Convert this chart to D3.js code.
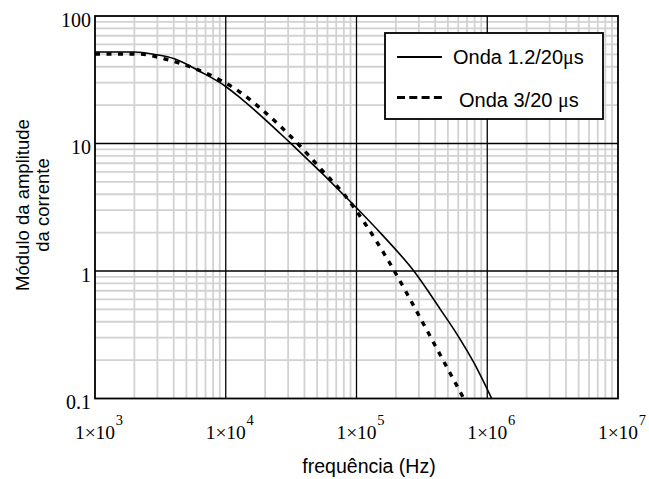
<!DOCTYPE html>
<html>
<head>
<meta charset="utf-8">
<script src="https://cdn.jsdelivr.net/npm/d3@7"></script>
<style>
  body { margin: 0; background: #fff; }
  svg { display: block; }
</style>
</head>
<body>
<svg id="chart" width="649" height="479"></svg>
<script>
// Current amplitude spectrum, 1.2/20 µs wave (solid)
const freqSolid = [1000, 2000, 2876, 4092, 6355, 10000, 13310, 31000, 99100, 156700, 280200, 435100, 597300, 792000, 1081000];
const ampSolid  = [52.2, 52.2, 49.9, 46.0, 36.7, 28.0, 22.2, 10.16, 3.16, 1.93, 0.973, 0.505, 0.310, 0.190, 0.1];

// Current amplitude spectrum, 3/20 µs wave (dashed)
const freqDashed = [1000, 2096, 3431, 5519, 8723, 12850, 18280, 36980, 54460, 81660, 116100, 180400, 305900, 450800, 661700];
const ampDashed  = [50.4, 50.4, 46.0, 39.5, 32.1, 25.3, 19.0, 9.56, 6.17, 3.91, 2.36, 1.145, 0.432, 0.207, 0.1];

const yTickValues = [0.1, 1, 10, 100];
const yTickLabels = ["0.1", "1", "10", "100"];
const xTickValues = [1e3, 1e4, 1e5, 1e6, 1e7];
const xTickMantissa = "1\u00D710";
const xTickExponents = ["3", "4", "5", "6", "7"];

const legendNames = ["Onda 1.2/20", "Onda 3/20 "];
const xTitle = "frequência (Hz)";
const yTitleLines = ["Módulo da amplitude", "da corrente"];

const svg = d3.select("#chart");
const plotLeft = 95, plotRight = 618, plotTop = 16, plotBottom = 398.5;

const x = d3.scaleLog().domain([1e3, 1e7]).range([plotLeft, plotRight]);
const y = d3.scaleLog().domain([0.1, 100]).range([plotBottom, plotTop]);

const isDecade = v => Math.abs(Math.log10(v) - Math.round(Math.log10(v))) < 1e-9;

// minor grid
const gMinor = svg.append("g").attr("stroke", "#d2d2d2").attr("stroke-width", 1.8);
gMinor.selectAll("line.vx").data(x.ticks().filter(v => !isDecade(v)))
  .join("line").attr("x1", d => x(d)).attr("x2", d => x(d)).attr("y1", plotTop).attr("y2", plotBottom);
gMinor.selectAll("line.hy").data(y.ticks().filter(v => !isDecade(v)))
  .join("line").attr("y1", d => y(d)).attr("y2", d => y(d)).attr("x1", plotLeft).attr("x2", plotRight);

// major grid
const gMajor = svg.append("g").attr("stroke", "#000");
gMajor.selectAll("line.vx").data(xTickValues.slice(1, -1))
  .join("line").attr("stroke-width", 1.3)
  .attr("x1", d => x(d)).attr("x2", d => x(d)).attr("y1", plotTop).attr("y2", plotBottom);
gMajor.selectAll("line.hy").data(yTickValues.slice(1, -1))
  .join("line").attr("stroke-width", 1.7)
  .attr("y1", d => y(d)).attr("y2", d => y(d)).attr("x1", plotLeft).attr("x2", plotRight);

// curves
svg.append("clipPath").attr("id", "plotclip").append("rect")
  .attr("x", plotLeft).attr("y", plotTop).attr("width", plotRight - plotLeft).attr("height", plotBottom - plotTop);

const line = d3.line().x(d => x(d[0])).y(d => y(d[1])).curve(d3.curveMonotoneX);
const solidPts = freqSolid.map((f, i) => [f, ampSolid[i]]);
const dashedPts = freqDashed.map((f, i) => [f, ampDashed[i]]);

svg.append("path").attr("clip-path", "url(#plotclip)")
  .attr("d", line(solidPts)).attr("fill", "none").attr("stroke", "#000").attr("stroke-width", 1.6);
svg.append("path").attr("clip-path", "url(#plotclip)")
  .attr("d", line(dashedPts)).attr("fill", "none").attr("stroke", "#000")
  .attr("stroke-width", 3.4).attr("stroke-dasharray", "5,6.5");

// frame
svg.append("rect").attr("x", plotLeft).attr("y", plotTop).attr("width", plotRight - plotLeft).attr("height", plotBottom - plotTop)
  .attr("fill", "none").attr("stroke", "#000").attr("stroke-width", 1.8);

// y tick labels
const yAxis = d3.axisLeft(y).tickValues(yTickValues)
  .tickFormat((d, i) => yTickLabels[i]).tickSize(0).tickPadding(4);
const gy = svg.append("g").attr("transform", `translate(${plotLeft},0)`).call(yAxis);
gy.select(".domain").remove();
gy.selectAll("text").attr("dy", "0.5em")
  .attr("font-family", "'Liberation Serif', 'Times New Roman', serif")
  .attr("font-size", 20).attr("fill", "#000");

// x tick labels: 1×10^n
const gx = svg.append("g").attr("font-family", "'Liberation Serif', 'Times New Roman', serif").attr("fill", "#000");
xTickValues.forEach((v, i) => {
  const t = gx.append("text").attr("x", x(v)).attr("y", 439).attr("text-anchor", "middle").attr("font-size", 19.5);
  t.text(xTickMantissa);
  const w = t.node().getComputedTextLength();
  gx.append("text").attr("x", x(v) + w / 2 + 0.5).attr("y", 425).attr("font-size", 14.5).text(xTickExponents[i]);
});

// axis titles
svg.append("text").attr("x", 369).attr("y", 473).attr("text-anchor", "middle")
  .attr("font-family", "'Liberation Sans', Arial, sans-serif").attr("font-size", 19.5).text(xTitle);

const yt = svg.append("text").attr("transform", "translate(0,205) rotate(-90)")
  .attr("text-anchor", "middle").attr("font-family", "'Liberation Sans', Arial, sans-serif").attr("font-size", 18.5);
yTitleLines.forEach((s, i) => yt.append("tspan").attr("x", 0).attr("y", 29 + i * 20).text(s));

// legend
const lg = svg.append("g");
lg.append("rect").attr("x", 385).attr("y", 33).attr("width", 218).attr("height", 86)
  .attr("fill", "#fff").attr("stroke", "#000").attr("stroke-width", 1.8);
lg.append("line").attr("x1", 397).attr("x2", 442).attr("y1", 57).attr("y2", 57)
  .attr("stroke", "#000").attr("stroke-width", 2);
lg.append("line").attr("x1", 397).attr("x2", 442).attr("y1", 97.5).attr("y2", 97.5)
  .attr("stroke", "#000").attr("stroke-width", 3).attr("stroke-dasharray", "8,4.3");
[[453, 64], [459, 107]].forEach((p, i) => {
  const t = lg.append("text").attr("x", p[0]).attr("y", p[1])
    .attr("font-family", "'Liberation Sans', Arial, sans-serif").attr("font-size", 20);
  t.append("tspan").text(legendNames[i]);
  t.append("tspan").attr("font-family", "'Liberation Serif', serif").text("\u03BC");
  t.append("tspan").text("s");
});
</script>
</body>
</html>
